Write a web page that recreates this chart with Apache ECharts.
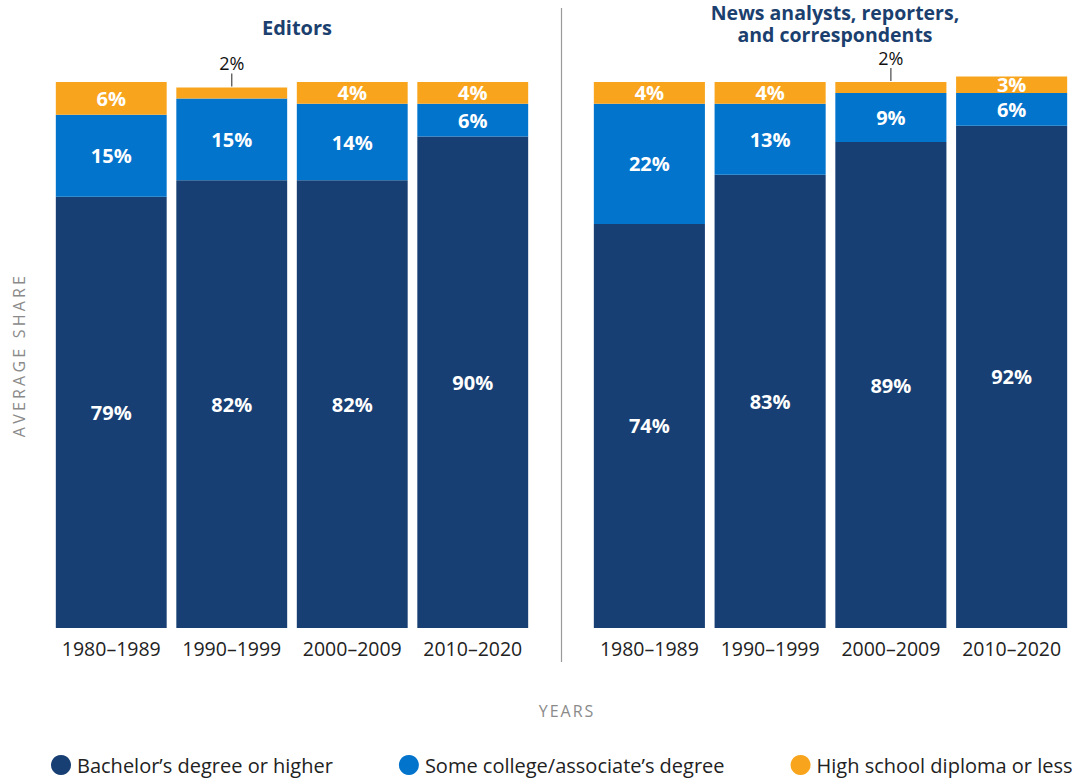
<!DOCTYPE html>
<html>
<head>
<meta charset="utf-8">
<script src="https://cdn.jsdelivr.net/npm/echarts@6/dist/echarts.min.js"></script>
<style>
  html, body { margin: 0; padding: 0; background: #ffffff; }
  #chart { width: 1081px; height: 778px; }
</style>
</head>
<body>
<div id="chart"></div>
<script>
// Decades shown on both panels
const categories = ['1980–1989', '1990–1999', '2000–2009', '2010–2020'];

// Editors: share of workers by education level (%)
const editorsBachelor = [79, 82, 82, 90];
const editorsSomeCollege = [15, 15, 14, 6];
const editorsHighSchool = [6, 2, 4, 4];

// News analysts, reporters, and correspondents (%)
const newsBachelor = [74, 83, 89, 92];
const newsSomeCollege = [22, 13, 9, 6];
const newsHighSchool = [4, 4, 2, 3];

const seriesNames = [
  'Bachelor’s degree or higher',
  'Some college/associate’s degree',
  'High school diploma or less'
];
const colors = ['#173f73', '#0374cc', '#f8a51d'];

const FONT = '"Open Sans", "Noto Sans", sans-serif';

const insideLabel = {
  show: true,
  position: 'inside',
  color: '#ffffff',
  fontFamily: FONT,
  fontWeight: 'bold',
  fontSize: 20,
  formatter: p => p.value + '%'
};

// Thin segments get their value above the bar with a short leader tick
function segmentData(values) {
  return values.map(v => {
    if (v <= 2) {
      return {
        value: v,
        label: {
          show: true,
          position: 'top',
          distance: 1,
          formatter: '{v|' + v + '%}\n{t|}',
          rich: {
            v: { color: '#111111', fontFamily: FONT, fontWeight: 'normal', fontSize: 18, lineHeight: 21, align: 'center' },
            t: { width: 1.3, height: 13, backgroundColor: '#555555', align: 'center' }
          }
        }
      };
    }
    return v;
  });
}

function barSeries(name, values, idx, colorIdx, small) {
  return {
    name: name,
    type: 'bar',
    stack: 'panel' + idx,
    xAxisIndex: idx,
    yAxisIndex: idx,
    barCategoryGap: '8%',
    clip: false,
    itemStyle: { color: colors[colorIdx] },
    label: insideLabel,
    emphasis: { disabled: true },
    data: small ? segmentData(values) : values
  };
}

const chart = echarts.init(document.getElementById('chart'), null, { renderer: 'svg' });

const categoryAxis = gi => ({
  type: 'category',
  gridIndex: gi,
  data: categories,
  axisLine: { show: false },
  axisTick: { show: false },
  axisLabel: { interval: 0, color: '#222222', fontFamily: FONT, fontSize: 19.5, margin: 10 }
});

chart.setOption({
  animation: false,
  backgroundColor: '#ffffff',
  title: [
    {
      text: 'Editors',
      left: 292, top: 12, textAlign: 'center',
      textStyle: { color: '#1b3f6e', fontFamily: FONT, fontWeight: 'bold', fontSize: 20 }
    },
    {
      text: 'News analysts, reporters,\nand correspondents',
      left: 830, top: -4, textAlign: 'center',
      textStyle: { color: '#1b3f6e', fontFamily: FONT, fontWeight: 'bold', fontSize: 19.5, lineHeight: 22 }
    },
    {
      text: 'YEARS',
      left: 562, top: 698, textAlign: 'center',
      textStyle: { color: '#8a8a8a', fontFamily: FONT, fontWeight: 'normal', fontSize: 16 }
    }
  ],
  legend: {
    left: 46,
    top: 750,
    icon: 'circle',
    itemWidth: 20,
    itemHeight: 20,
    itemGap: 66,
    selectedMode: false,
    textStyle: { color: '#222222', fontFamily: FONT, fontSize: 20, padding: [0, 0, 0, 1] },
    data: seriesNames
  },
  grid: [
    { left: 51, top: 82, width: 482, height: 546 },
    { left: 589, top: 82, width: 483, height: 546 }
  ],
  xAxis: [categoryAxis(0), categoryAxis(1)],
  yAxis: [
    {
      type: 'value', gridIndex: 0, min: 0, max: 100,
      name: 'AVERAGE SHARE', nameLocation: 'middle', nameGap: 24, nameRotate: 90,
      nameTextStyle: { color: '#8a8a8a', fontFamily: FONT, fontSize: 16 },
      axisLine: { show: false }, axisTick: { show: false },
      axisLabel: { show: false }, splitLine: { show: false }
    },
    {
      type: 'value', gridIndex: 1, min: 0, max: 100,
      axisLine: { show: false }, axisTick: { show: false },
      axisLabel: { show: false }, splitLine: { show: false }
    }
  ],
  graphic: [
    {
      type: 'line',
      shape: { x1: 561.5, y1: 8, x2: 561.5, y2: 662 },
      style: { stroke: '#9a9a9a', lineWidth: 1.2 }
    }
  ],
  series: [
    barSeries(seriesNames[0], editorsBachelor, 0, 0, false),
    barSeries(seriesNames[1], editorsSomeCollege, 0, 1, false),
    barSeries(seriesNames[2], editorsHighSchool, 0, 2, true),
    barSeries(seriesNames[0], newsBachelor, 1, 0, false),
    barSeries(seriesNames[1], newsSomeCollege, 1, 1, false),
    barSeries(seriesNames[2], newsHighSchool, 1, 2, true)
  ]
});

// Tracked-out capitals for the two axis titles
function spaceAxisTitles() {
  const spacing = { 'AVERAGE SHARE': '3.2px', 'YEARS': '2px' };
  document.querySelectorAll('#chart svg text').forEach(t => {
    const s = spacing[t.textContent.trim()];
    if (s) t.style.letterSpacing = s;
  });
}
spaceAxisTitles();
chart.on('finished', spaceAxisTitles);
</script>
</body>
</html>
